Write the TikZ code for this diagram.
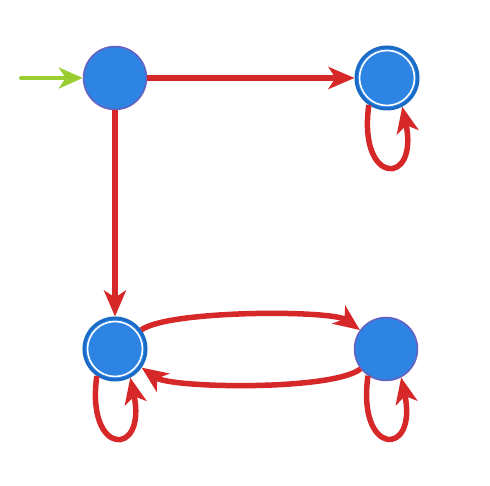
\documentclass[tikz,border=0pt]{standalone}
\usepackage{tikz}
\usetikzlibrary{arrows.meta,positioning}
\definecolor{faFill}{HTML}{2E84E3}
\definecolor{faEdge}{HTML}{6660C0}
\definecolor{faRing}{HTML}{1A6BC6}
\definecolor{faArc}{HTML}{D62828}
\definecolor{faInit}{HTML}{9ACD32}
\tikzset{
  state/.style={circle, draw=faEdge, fill=faFill, line width=1.5pt, minimum size=63pt, inner sep=0pt},
  accept/.style={state, draw=faRing, line width=3pt, minimum size=62pt,
    path picture={\draw[white, line width=1.6pt] (path picture bounding box.center) circle (27.5pt);}},
  trans/.style={-{Stealth[length=26pt, width=22pt, inset=7pt]}, line width=5.5pt, faArc},
  init/.style={-{Stealth[length=24pt, width=21pt, inset=7pt]}, line width=4pt, faInit, line cap=round},
  selfloop/.style={trans, out=-98, in=-78, looseness=1, min distance=82pt}
}
\begin{document}
\begin{tikzpicture}[x=1pt, y=1pt]
  \useasboundingbox (0,0) rectangle (490,486);
  \node[state] (q0) at (115,408) {};
  \node[accept] (q1) at (387,408) {};
  \node[accept] (q2) at (115,137) {};
  \node[state] (q3) at (386,137) {};
  \coordinate (start) at (21,408);
  \draw[init] (start) -- (q0);
  \draw[trans] (q0) -- (q1); \draw[trans] (q0) -- (q2);
  \draw[trans] (q2) to[out=36, in=144, looseness=0.4] (q3);
  \draw[trans] (q3) to[out=-142, in=-35, looseness=0.42] (q2);
  \draw[selfloop] (q1.-124) to (q1.-62);
  \draw[selfloop] (q2.-124) to (q2.-62);
  \draw[selfloop] (q3.-124) to (q3.-62);
\end{tikzpicture}
\end{document}
